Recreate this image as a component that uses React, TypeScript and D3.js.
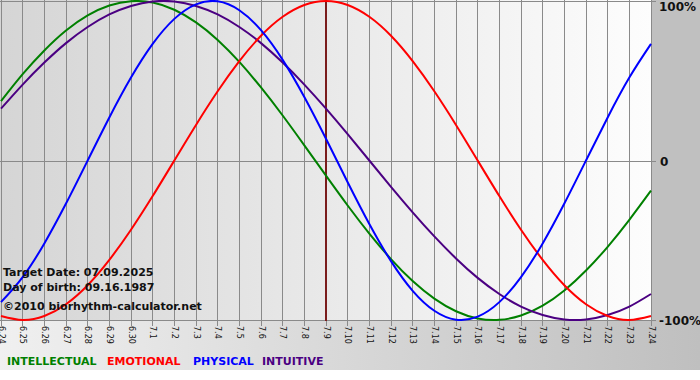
import React from "react";
import * as d3 from "d3";

const days = [
  "6.24","6.25","6.26","6.27","6.28","6.29","6.30",
  "7.1","7.2","7.3","7.4","7.5","7.6","7.7","7.8","7.9","7.10",
  "7.11","7.12","7.13","7.14","7.15","7.16","7.17","7.18","7.19","7.20",
  "7.21","7.22","7.23","7.24",
];

const physical = [
  -0.888,-0.731,-0.52,-0.27,0,0.27,0.52,0.731,0.888,0.979,0.998,0.942,0.817,0.631,0.398,0.136,
  -0.136,-0.398,-0.631,-0.817,-0.942,-0.998,-0.979,-0.888,-0.731,-0.52,-0.27,0,0.27,0.52,0.731,
];
const emotional = [
  -0.975,-1,-0.975,-0.901,-0.782,-0.623,-0.434,-0.223,0,0.223,0.434,0.623,0.782,0.901,0.975,1,
  0.975,0.901,0.782,0.623,0.434,0.223,0,-0.223,-0.434,-0.623,-0.782,-0.901,-0.975,-1,-0.975,
];
const intellectual = [
  0.372,0.541,0.69,0.815,0.91,0.972,0.999,0.99,0.945,0.866,0.756,0.618,0.458,0.282,0.095,-0.095,
  -0.282,-0.458,-0.618,-0.756,-0.866,-0.945,-0.99,-0.999,-0.972,-0.91,-0.815,-0.69,-0.541,-0.372,-0.189,
];
const intuitive = [
  0.325,0.476,0.614,0.736,0.837,0.916,0.969,0.997,0.997,0.969,0.916,0.837,0.736,0.614,0.476,0.325,
  0.165,0,-0.165,-0.325,-0.476,-0.614,-0.736,-0.837,-0.916,-0.969,-0.997,-0.997,-0.969,-0.916,-0.837,
];

const yTicks = [
  { v: 1, label: "100%" },
  { v: 0, label: "0" },
  { v: -1, label: "-100%" },
];
const targetDay = "7.9";
const infoLines = ["Target Date: 07.09.2025", "Day of birth: 09.16.1987", "©2010 biorhythm-calculator.net"];

const seriesList = [
  { name: "INTELLECTUAL", values: intellectual, color: "#008000" },
  { name: "EMOTIONAL", values: emotional, color: "#ff0000" },
  { name: "PHYSICAL", values: physical, color: "#0000ff" },
  { name: "INTUITIVE", values: intuitive, color: "#4b0082" },
];

export default function App() {
  const W = 700, H = 380;
  const left = 1, right = 651, top = 1, bottom = 320;
  const x = d3.scalePoint<string>().domain(days).range([left, right]);
  const y = d3.scaleLinear().domain([-1, 1]).range([bottom, top]);
  const line = d3
    .line<number>()
    .x((_, i) => x(days[i]) as number)
    .y((v) => y(v))
    .curve(d3.curveNatural);

  const font = "'DejaVu Sans', Verdana, sans-serif";
  const legendX = [7, 107, 193, 262];
  const drawOrder = [0, 3, 1, 2];

  return (
    <svg width={W} height={H} style={{ position: "absolute", left: 0, top: 0, display: "block" }}>
      <defs>
        <linearGradient id="plotBg" x1="0" x2="1" y1="0" y2="0">
          <stop offset="0" stopColor="#d5d5d5" />
          <stop offset="1" stopColor="#fdfdfd" />
        </linearGradient>
        <linearGradient id="bandBg" x1="0" x2="1" y1="0" y2="0">
          <stop offset="0" stopColor="#f0f0f0" />
          <stop offset="1" stopColor="#bfbfbf" />
        </linearGradient>
      </defs>
      <rect x={0} y={0} width={W} height={H} fill="#ffffff" />
      <rect x={0} y={0} width={W} height={370} fill="url(#bandBg)" />
      <rect x={right} y={0} width={W - right} height={322} fill="#c0c0c0" />
      <rect x={0} y={0} width={right} height={bottom + 1} fill="url(#plotBg)" />

      {days.map((d) => (
        <line key={d} x1={x(d)} x2={x(d)} y1={0} y2={bottom + 6} stroke="#8a8a8a" strokeWidth={1} shapeRendering="crispEdges" />
      ))}
      {yTicks.map((t) => (
        <line key={t.label} x1={0} x2={right + 5} y1={Math.round(y(t.v))} y2={Math.round(y(t.v))} stroke="#8a8a8a" strokeWidth={1} shapeRendering="crispEdges" />
      ))}

      <line x1={x(targetDay)} x2={x(targetDay)} y1={0} y2={bottom + 1} stroke="#7a1c1c" strokeWidth={2} />

      {drawOrder.map((k) => (
        <path key={seriesList[k].name} d={line(seriesList[k].values) as string} fill="none" stroke={seriesList[k].color} strokeWidth={2} />
      ))}

      {days.map((d) => (
        <text
          key={"l" + d}
          transform={`translate(${x(d)},${bottom + 6}) rotate(90)`}
          dominantBaseline="central"
          fontFamily={font}
          fontSize={8}
          fill="#111"
        >
          {d}
        </text>
      ))}

      {yTicks.map((t) => (
        <text key={"y" + t.label} x={t.v === 0 ? 660 : 659} y={y(t.v) + (t.v === 1 ? 10 : 5)} fontFamily={font} fontWeight="bold" fontSize={12} fill="#111">
          {t.label}
        </text>
      ))}

      {infoLines.map((s, i) => (
        <text key={s} x={3} y={[276, 291, 310][i]} fontFamily={font} fontWeight="bold" fontSize={11} fill="#111">
          {s}
        </text>
      ))}

      {seriesList.map((s, i) => (
        <text key={"lg" + s.name} x={legendX[i]} y={365} fontFamily={font} fontWeight="bold" fontSize={11} fill={s.color}>
          {s.name}
        </text>
      ))}
    </svg>
  );
}
